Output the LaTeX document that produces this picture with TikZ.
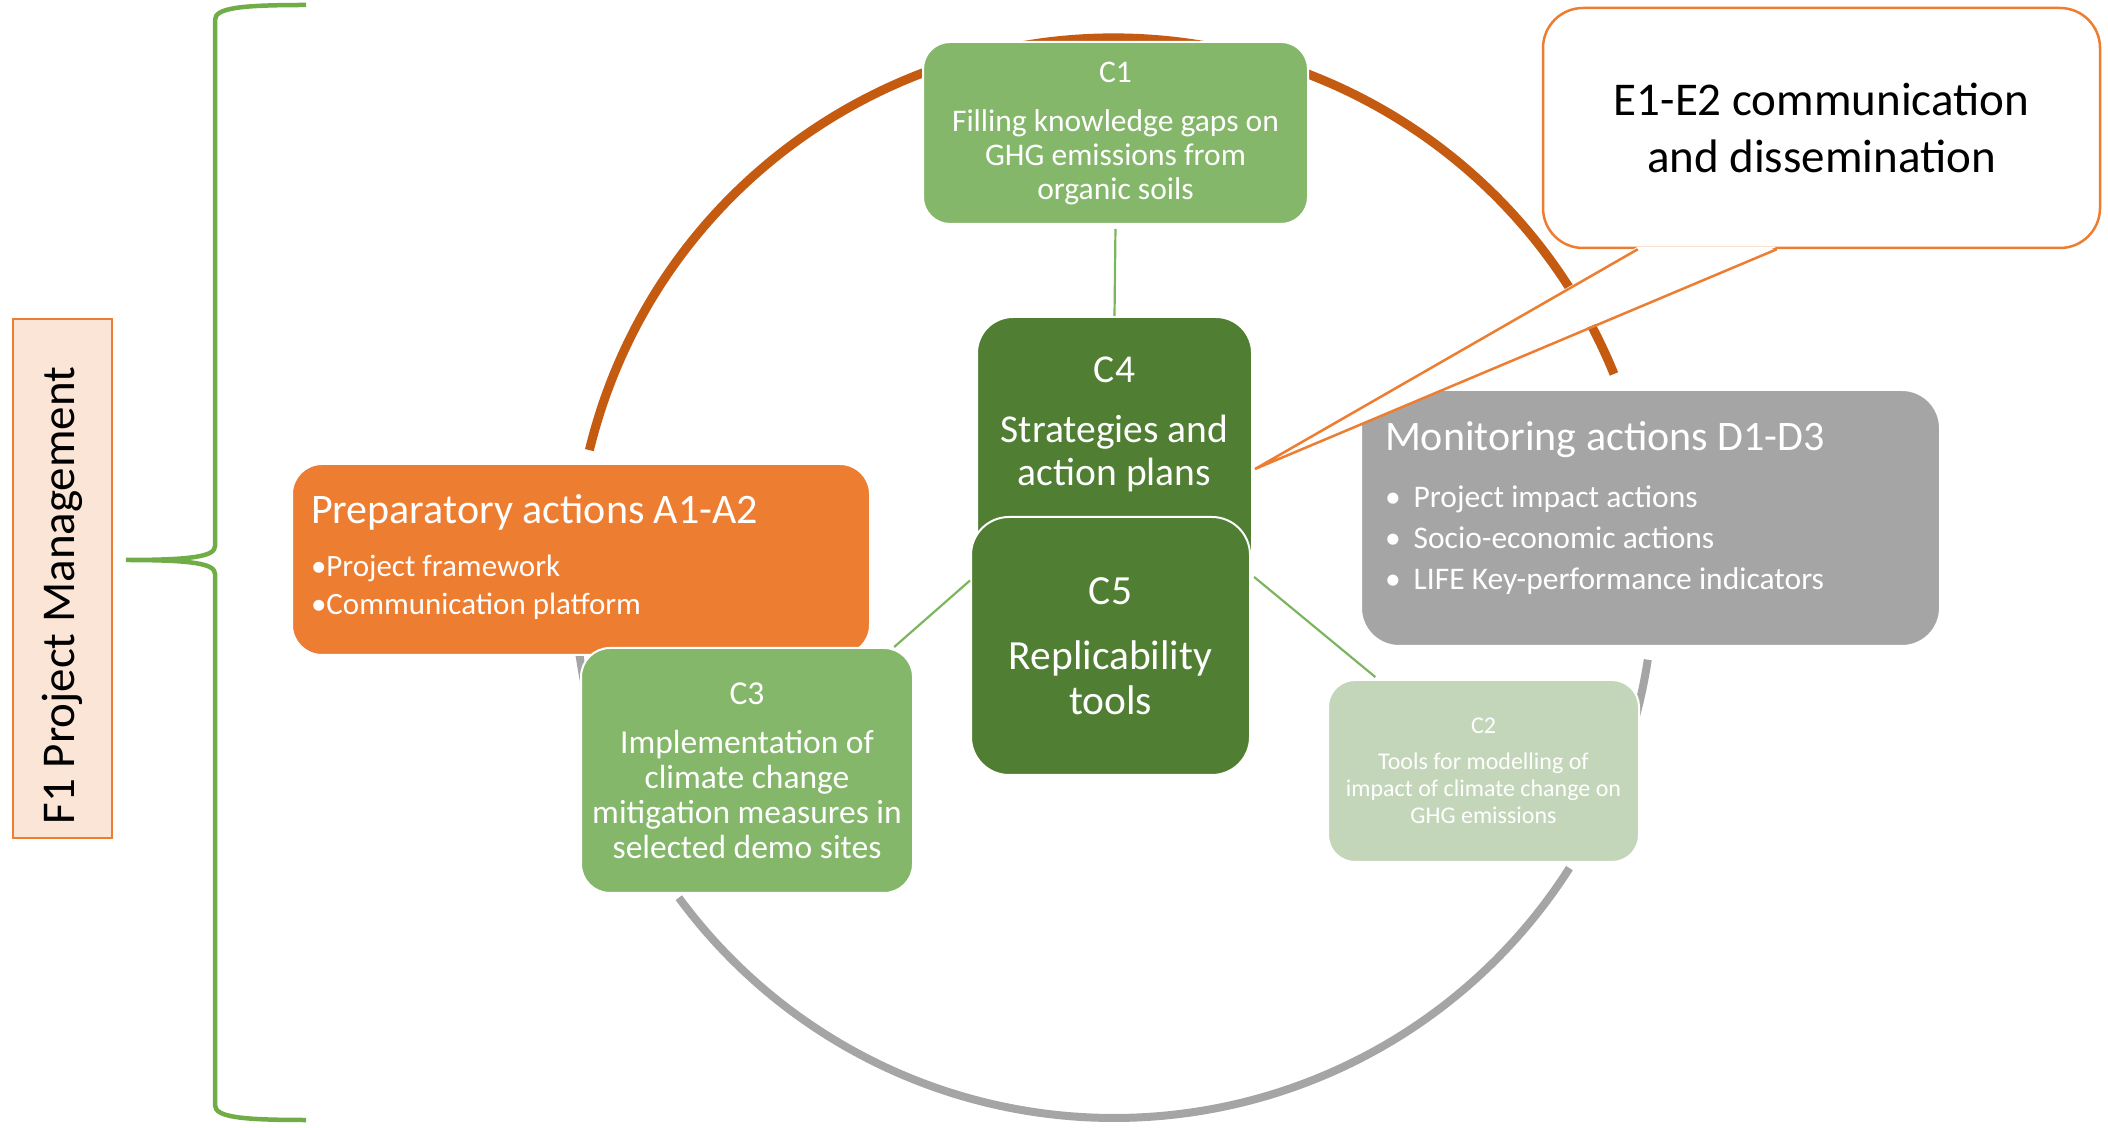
\documentclass[tikz,border=0pt]{standalone}
\usepackage{fontspec}
\setmainfont{Carlito}
\usetikzlibrary{calc}
\definecolor{colfill}{HTML}{ED7D31}
\definecolor{colarc}{HTML}{C55A11}
\definecolor{colgmid}{HTML}{84B76A}
\definecolor{colgdark}{HTML}{507E32}
\definecolor{colglight}{HTML}{C3D6B9}
\definecolor{colgrey}{HTML}{A5A5A5}
\definecolor{colpeach}{HTML}{FBE5D6}
\definecolor{colbrace}{HTML}{70AD47}
\definecolor{colconn}{HTML}{7DB55E}
\begin{document}
\begin{tikzpicture}[x=1pt,y=1pt,
  sabox/.style={draw=white, line width=2pt, inner sep=0pt, text=white, align=center},
  conn/.style={draw=colconn, line width=2.2pt},
  arcor/.style={draw=colarc, line width=9pt},
  arcgr/.style={draw=colgrey, line width=8pt},
  bracestyle/.style={draw=colbrace, line width=4.5pt}]
\useasboundingbox (0,0) rectangle (2108,1127);
% brace
\draw[bracestyle] (306,1122) .. controls (240,1122) and (215,1119) .. (215,1107) -- (215,581)
  .. controls (215,571) and (195,567) .. (126,567)
  .. controls (195,567) and (215,563) .. (215,553) -- (215,22)
  .. controls (215,10) and (240,7) .. (306,7);
% F1 box
\node[draw=colfill, line width=2.5pt, fill=colpeach, rotate=90, minimum width=519pt,
  minimum height=99pt, inner sep=0pt, font=\fontsize{47pt}{56pt}\selectfont] (f1) at (62.5,548.5)
  {F1 Project Management\hspace*{34pt}};
% cycle arcs
\coordinate (O) at (1114,549);
\draw[arcor] (O) ++(166.3:540) arc[start angle=166.3, end angle=22.2, radius=540];
\draw[arcgr] (O) ++(-8.7:540) arc[start angle=-8.7, end angle=-30, radius=540];
\draw[arcgr] (O) ++(-32.5:540) arc[start angle=-32.5, end angle=-143.7, radius=540];
\draw[arcgr] (O) ++(-166:540) arc[start angle=-166, end angle=-175, radius=540];
% C1
\node[sabox, fill=colgmid, rounded corners=27pt, minimum width=385pt, minimum height=182pt,
  font=\fontsize{31.5pt}{34pt}\selectfont] (c1) at (1115.5,994)
  {C1\\[15pt]Filling knowledge gaps on\\GHG emissions from\\organic soils};
% Preparatory
\node[sabox, fill=colfill, rounded corners=30pt, minimum width=578pt, minimum height=191pt] (prep)
  at (581,567.5) {\begin{minipage}[c][191pt][t]{578pt}\raggedright\leftskip=19pt
  \vspace*{30pt}{\fontsize{42pt}{46pt}\selectfont Preparatory actions A1-A2\par}\vspace{15pt}
  \fontsize{31pt}{38pt}\selectfont\textbullet Project framework\\\textbullet Communication platform\par
  \end{minipage}};
% C4
\node[sabox, fill=colgdark, rounded corners=36pt, minimum width=275pt, minimum height=283pt] (c4)
  at (1114.5,668.5) {\begin{minipage}[c][283pt][t]{275pt}\centering
  \fontsize{39.5pt}{43.3pt}\selectfont\vspace*{40pt}C4\par\vspace{16.7pt}Strategies and\\action plans\par
  \end{minipage}};
% C5
\node[sabox, fill=colgdark, rounded corners=38pt, minimum width=279pt, minimum height=258pt,
  font=\fontsize{41.5pt}{45pt}\selectfont] (c5) at (1110.5,481)
  {C5\\[20pt]Replicability\\tools};
% C3
\node[sabox, fill=colgmid, rounded corners=29pt, minimum width=332pt, minimum height=245pt,
  font=\fontsize{33.5pt}{35pt}\selectfont] (c3) at (747,356.5)
  {C3\\[14pt]Implementation of\\climate change\\mitigation measures in\\selected demo sites};
% Monitoring
\node[sabox, fill=colgrey, rounded corners=38pt, minimum width=579pt, minimum height=256pt] (mon)
  at (1650.5,609) {\begin{minipage}[c][256pt][t]{579pt}\raggedright\leftskip=24pt
  \vspace*{31pt}{\fontsize{42pt}{46pt}\selectfont Monitoring actions D1-D3\par}\vspace{16pt}
  \fontsize{31.5pt}{41pt}\selectfont\textbullet\hspace{13pt}Project impact actions\\
  \textbullet\hspace{13pt}Socio-economic actions\\
  \textbullet\hspace{13pt}LIFE Key-performance indicators\par
  \end{minipage}};
% C2
\node[sabox, fill=colglight, rounded corners=27pt, minimum width=311pt, minimum height=182pt,
  font=\fontsize{24pt}{27pt}\selectfont] (c2) at (1483.5,356)
  {C2\\[9pt]Tools for modelling of\\impact of climate change on\\GHG emissions};
% callout
\node[draw=colfill, line width=2.5pt, fill=white, rounded corners=40pt, minimum width=557pt,
  minimum height=240pt, inner sep=0pt, align=center, font=\fontsize{47pt}{57pt}\selectfont] (call)
  at (1821.5,999) {E1-E2 communication\\and dissemination};
\coordinate (pl) at ($(call.south west)+(96,0)$);
\coordinate (pr) at ($(call.south west)+(235,0)$);
\coordinate (tip) at (1255,658);
\fill[white] ($(pl)+(0,2.5)$) -- (tip) -- ($(pr)+(0,2.5)$) -- cycle;
\draw[draw=colfill, line width=2.5pt] (pl) -- (tip) -- (pr);
% connectors
\draw[conn, shorten <=4pt] (c1.south) -- (c4.north);
\draw[conn] (c5.155) -- (c3.40);
\draw[conn, shorten <=4pt, shorten >=3pt] (c5.27) -- (c2.139);
\end{tikzpicture}
\end{document}
